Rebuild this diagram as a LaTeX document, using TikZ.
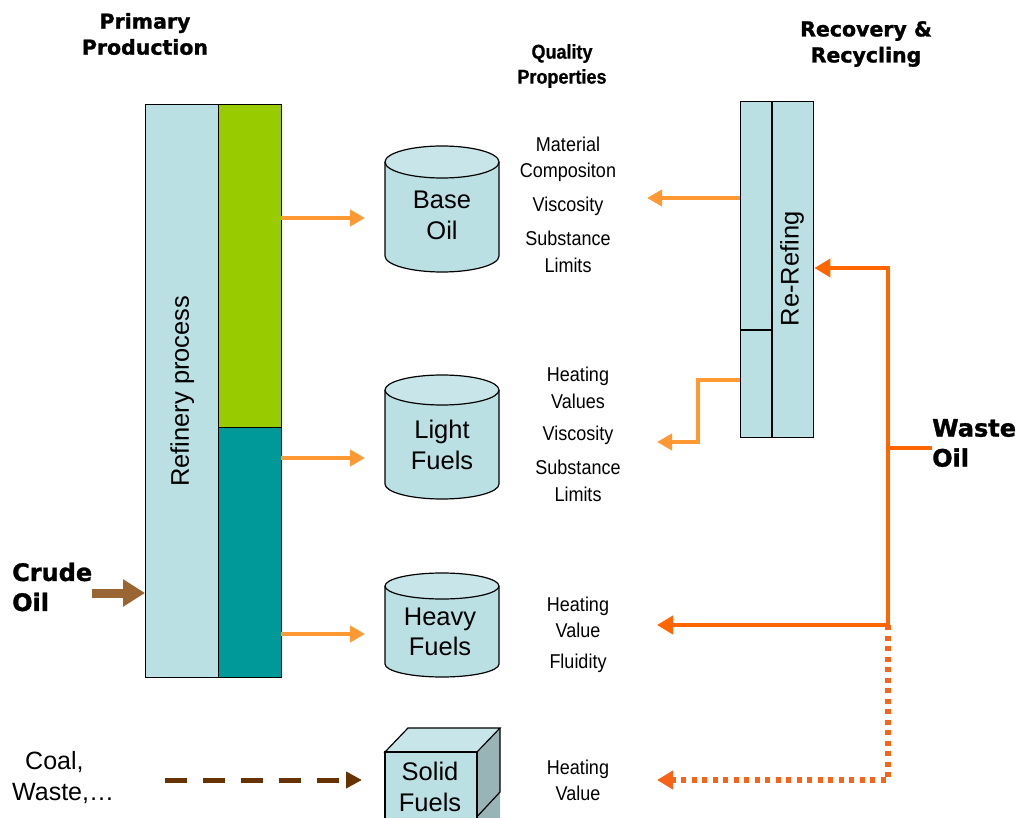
\documentclass[tikz,border=0pt]{standalone}
\usepackage{fontspec}
\setmainfont{Liberation Sans}
\newfontfamily\narrowf[FakeStretch=0.9]{Liberation Sans}
\newfontfamily\heavyf[BoldFeatures={FakeBold=1.3}]{DejaVu Sans}
\newfontfamily\qfont[FakeStretch=0.9,BoldFeatures={FakeBold=0.6}]{Liberation Sans}
\usetikzlibrary{arrows.meta}
\definecolor{lb}{HTML}{BBE0E3}
\definecolor{lbtop}{HTML}{C8E6E9}
\definecolor{grn}{HTML}{99CC00}
\definecolor{teal2}{HTML}{009999}
\definecolor{cubeside}{HTML}{98B4B7}
\definecolor{lor}{HTML}{FF9933}
\definecolor{dor}{HTML}{FF6600}
\definecolor{dotor}{HTML}{F46419}
\definecolor{brn}{HTML}{996633}
\definecolor{dbrn}{HTML}{663300}
\tikzset{
  colbox/.style={draw=black, line width=1.4pt, inner sep=0pt, anchor=north west},
  title/.style={font=\heavyf\bfseries\fontsize{20.5}{26}\selectfont, align=center, inner sep=0pt},
  biglabel/.style={font=\heavyf\bfseries\fontsize{24}{30}\selectfont, align=left, inner sep=0pt, anchor=west},
  qtitle/.style={font=\qfont\bfseries\fontsize{20}{25}\selectfont, align=center, inner sep=0pt},
  prop/.style={font=\narrowf\fontsize{20}{26.5}\selectfont, align=center, inner sep=0pt},
  big/.style={font=\fontsize{25.5}{30.5}\selectfont, align=center, inner sep=0pt},
  lflow/.style={draw=lor, line width=4pt, -{Triangle[length=15pt,width=16pt]}},
  dflow/.style={draw=dor, line width=4.5pt, -{Triangle[length=16pt,width=18pt]}},
  outl/.style={draw=black, line width=1.2pt},
}
\newcommand\cylshape[4]{% center x, top y, bottom y, y radius
  \fill[lb] (#1-57,#2) -- (#1-57,#3) arc[start angle=180,end angle=360,x radius=57pt,y radius=#4pt] -- (#1+57,#2) -- cycle;
  \draw[outl] (#1-57,#2) -- (#1-57,#3) arc[start angle=180,end angle=360,x radius=57pt,y radius=#4pt] -- (#1+57,#2);
  \draw[outl, fill=lbtop] (#1,#2) ellipse[x radius=57pt, y radius=#4pt];
}
\begin{document}
\begin{tikzpicture}[x=1pt,y=-1pt]
\useasboundingbox (0,0) rectangle (1025,818);

% titles
\node[title] (tprim) at (145,34) {Primary\\Production};
\node[qtitle] (tqual) at (562,66) {Quality\\Properties};
\node[title] (trec) at (866,44) {Recovery \&\\Recycling};

% refinery
\node[colbox, fill=lb, minimum width=73pt, minimum height=573pt] (ref) at (145,104) {};
\node[colbox, fill=grn, minimum width=63pt, minimum height=323pt] (green) at (218,104) {};
\node[colbox, fill=teal2, minimum width=63pt, minimum height=250pt] (teal) at (218,427) {};
\node[big, rotate=90] (reftxt) at (ref.center) {Refinery process};

% crude oil
\node[biglabel] (crude) at (12,587) {Crude\\Oil};
\coordinate (crudeS) at (92,593);
\draw[draw=brn, line width=9pt, -{Triangle[length=22pt,width=26pt]}] (crudeS) -- (ref.west |- crudeS);

% cylinders
\cylshape{442}{162}{256}{16}
\cylshape{442}{390}{484}{15}
\cylshape{442}{586}{664}{13}
\node[big] (base) at (442,215.5) {Base\\Oil};
\node[big] (light) at (442,445) {Light\\Fuels};
\node[big] (heavy) at (440,632) {Heavy\\Fuels};

% cube
\fill[cubeside] (477,752) -- (500,728) -- (500,818) -- (477,818) -- cycle;
\draw[outl] (500,728) -- (500,792) -- (474,820);
\draw[outl, fill=lbtop] (385,752) -- (408,728) -- (500,728) -- (477,752) -- cycle;
\fill[lb] (385,752) rectangle (477,818);
\draw[outl] (385,820) -- (385,752) -- (477,752) -- (477,820);
\node[big] (solid) at (430,787) {Solid\\Fuels};

% arrows refinery -> products
\coordinate (a1) at (281,218); \coordinate (a1e) at (365,218);
\coordinate (a2) at (281,458); \coordinate (a2e) at (365,458);
\coordinate (a3) at (281,634); \coordinate (a3e) at (365,634);
\draw[lflow] (a1) -- (a1e);
\draw[lflow] (a2) -- (a2e);
\draw[lflow] (a3) -- (a3e);

% properties
\node[prop] (p1a) at (568,159.5) {Material\\Compositon};
\node[prop] (p1b) at (568,206) {Viscosity};
\node[prop] (p1c) at (568,252) {Substance\\Limits};
\node[prop] (p2a) at (578,388) {Heating\\Values};
\node[prop] (p2b) at (578,435) {Viscosity};
\node[prop] (p2c) at (578,481) {Substance\\Limits};
\node[prop] (p3a) at (578,617.5) {Heating\\Value};
\node[prop] (p3b) at (578,663) {Fluidity};
\node[prop] (p4a) at (578,780.5) {Heating\\Value};

% coal
\node[font=\fontsize{25}{31}\selectfont, align=left, inner sep=0pt, anchor=west] (coal) at (12,778) {\hspace*{13pt}Coal,\\Waste,\dots};
\coordinate (cs) at (165,780); \coordinate (ce) at (362,780);
\draw[draw=dbrn, line width=5pt, dash pattern=on 22pt off 16pt, -{Triangle[length=16pt,width=16pt]}] (cs) -- (ce);

% re-refining
\node[colbox, fill=lb, minimum width=73pt, minimum height=336pt] (rr) at (740,101) {};
\draw[outl] (772,101) -- (772,437);
\draw[outl] (740,330) -- (772,330);
\node[big, rotate=90] (rrtxt) at (792,269) {Re-Refing};

% outputs of re-refining
\coordinate (r1) at (740,198); \coordinate (r1e) at (647,198);
\draw[lflow] (r1) -- (r1e);
\coordinate (r2) at (740,380); \coordinate (r2e) at (657,442);
\draw[lflow] (r2) -- (698,380) -- (698,442) -- (r2e);

% waste oil
\node[biglabel] (waste) at (932,443) {Waste\\Oil};
\coordinate (wj) at (888,448);
\coordinate (wt) at (888,268);
\coordinate (wh) at (888,625);
\coordinate (wb) at (888,780);
\draw[draw=dor, line width=4.5pt] (waste.west |- wj) -- (wj);
\draw[dflow] (wh) -- (wt) -- (rr.east |- wt);
\draw[dflow] (wh) -- (657,625);
\draw[draw=dotor, line width=5.5pt, dash pattern=on 5pt off 5.5pt] (wh) -- (wb) -- (672,780);
\draw[draw=dotor, line width=5pt, -{Triangle[length=16pt,width=18pt]}] (674,780) -- (657,780);
\end{tikzpicture}
\end{document}
